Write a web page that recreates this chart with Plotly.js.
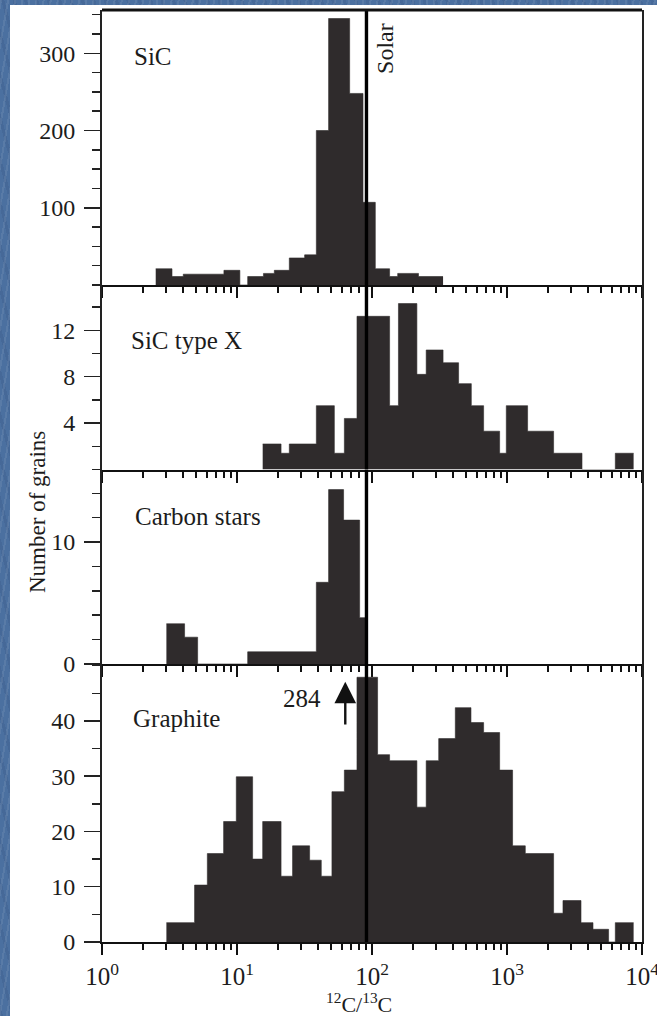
<!DOCTYPE html>
<html>
<head>
<meta charset="utf-8">
<script src="https://cdn.plot.ly/plotly-3.0.1.min.js"></script>
<style>
  html, body { margin:0; padding:0; }
  body {
    width:657px; height:1016px; overflow:hidden; position:relative;
    background-color:#4b70a0;
    background-image:
      repeating-linear-gradient(100deg, rgba(255,255,255,0.08) 0px, rgba(255,255,255,0.08) 2px, rgba(255,255,255,0) 2px, rgba(255,255,255,0) 7px),
      repeating-linear-gradient(75deg, rgba(10,20,60,0.08) 0px, rgba(10,20,60,0.08) 3px, rgba(0,0,0,0) 3px, rgba(0,0,0,0) 11px);
  }
  #chart { position:absolute; left:10px; top:5px; width:647px; height:1011px; background:#fff; }
</style>
</head>
<body>
<div id="chart"></div>
<script>
// ---- data (bin edges in 12C/13C, counts = number of grains) ----
const edgesSiC  = [2.5, 3.3, 4.0, 8.0, 10.5, 12.0, 15.7, 18.9, 24.4, 31.7, 38.7, 47.7, 68.3, 85.8, 105.8, 135, 155, 221, 336];
const countsSiC = [21, 11, 14, 19, 0, 11, 15, 19, 35, 39, 200, 345, 248, 107, 21, 11, 15, 11];

const edgesX  = [15.5, 21.2, 24.4, 38.7, 52.6, 62.4, 77.4, 135, 157, 215, 252, 336, 438, 544, 671, 882, 988, 1421, 2214, 3594, 6342, 8665];
const countsX = [2.2, 1.4, 2.2, 5.5, 1.4, 4.4, 13.2, 5.5, 14.3, 8.2, 10.3, 9.2, 7.4, 5.5, 3.3, 1.4, 5.5, 3.3, 1.4, 0, 1.4];

const edgesCS  = [3.0, 4.09, 5.11, 12.0, 38.7, 47.7, 61.6, 81.0, 91.8];
const countsCS = [3.3, 2.2, 0, 1, 6.7, 14.3, 11.8, 3.8];

const edgesG  = [3.0, 4.85, 6.03, 7.96, 9.88, 13.05, 15.5, 21.2, 25.8, 34.5, 42.1, 50.5, 62.4, 77.4, 110, 135, 215, 252, 312, 414, 541, 671, 882, 1100, 1366, 2214, 2598, 3533, 4335, 5657, 6342, 8665];
const countsG = [3.5, 10.3, 16, 21.8, 29.9, 15, 21.8, 11.9, 17.4, 14.8, 11.9, 27.2, 31.1, 47.9, 33.9, 32.8, 24.4, 32.8, 36.8, 42.4, 39.7, 37.9, 31.1, 17.4, 16, 5.2, 7.5, 3.5, 2.3, 0, 3.5];

const panelNames = ['SiC', 'SiC type X', 'Carbon stars', 'Graphite'];
const solarRatio = 91;          // Solar 12C/13C line
const offscaleLabel = '284';    // graphite off-scale count
const offscaleX = 63.4;         // arrow position (12C/13C)
const offscaleHead = 47.1, offscaleTail = 39.1;

const xTickVals = [1, 10, 100, 1000, 10000];
const xTickText = ['10<sup>0</sup>', '10<sup>1</sup>', '10<sup>2</sup>', '10<sup>3</sup>', '10<sup>4</sup>'];

const yRanges = [[0, 356], [0, 15.9], [0, 15.95], [0, 50.3]];
const yTickVals = [[100, 200, 300], [4, 8, 12], [0, 10], [0, 10, 20, 30, 40]];
const yMinorStep = [25, 2, 2, 5];

// ---- styling ----
const BAR = '#2f2b2c';
const FONT = 'Liberation Serif';
const INK = '#1c1c1c';

function stepTrace(edges, counts, xa, ya) {
  const y = counts.concat([counts[counts.length - 1]]);
  return {
    type: 'scatter', mode: 'lines', x: edges, y: y,
    xaxis: xa, yaxis: ya,
    line: { shape: 'hv', width: 0.6, color: BAR },
    fill: 'tozeroy', fillcolor: BAR, hoverinfo: 'skip', showlegend: false
  };
}

const data = [
  stepTrace(edgesSiC, countsSiC, 'x', 'y'),
  stepTrace(edgesX, countsX, 'x2', 'y2'),
  stepTrace(edgesCS, countsCS, 'x3', 'y3'),
  stepTrace(edgesG, countsG, 'x4', 'y4')
];
// Solar line through every panel
['', '2', '3', '4'].forEach((s, i) => {
  data.push({
    type: 'scatter', mode: 'lines', x: [solarRatio, solarRatio], y: [0, yRanges[i][1]],
    xaxis: 'x' + s, yaxis: 'y' + s, line: { color: '#000', width: 3.4 },
    hoverinfo: 'skip', showlegend: false
  });
});

// domains (fractions of plot height, bottom = 0)
const domains = [[0.70494, 1], [0.50697, 0.70494], [0.29828, 0.50697], [0, 0.29828]];

const layout = {
  width: 647, height: 1011,
  margin: { l: 92, r: 15, t: 5, b: 74 },
  paper_bgcolor: '#ffffff', plot_bgcolor: '#ffffff',
  font: { family: FONT, color: INK, size: 22 },
  showlegend: false,
  annotations: [],
  shapes: [
    { type: 'line', xref: 'paper', yref: 'paper', x0: 0, x1: 1, y0: 1, y1: 1, line: { color: '#111', width: 3 } }
  ]
};

['', '2', '3', '4'].forEach((s, i) => {
  const last = (i === 3);
  layout['xaxis' + s] = {
    type: 'log', range: [0, 4], domain: [0, 1], anchor: 'y' + s,
    showline: true, linecolor: '#111', linewidth: 2,
    showgrid: false, zeroline: false,
    ticks: 'outside', tickmode: 'array', tickvals: xTickVals, ticktext: xTickText,
    ticklen: 11, tickwidth: 2, tickcolor: '#111',
    showticklabels: last, ticklabeloverflow: 'allow', ticklabelstandoff: 0,
    tickfont: { family: FONT, size: 25, color: INK },
    minor: { dtick: 'D1', ticks: 'outside', ticklen: 6, tickwidth: 2, tickcolor: '#111', showgrid: false },
    fixedrange: true
  };
  const yv = yTickVals[i];
  layout['yaxis' + s] = {
    domain: domains[i], anchor: 'x' + s, range: yRanges[i],
    showline: true, linecolor: '#222', linewidth: 2, mirror: true,
    showgrid: false, zeroline: false,
    ticks: 'outside', tickmode: 'array', tickvals: yv, ticktext: yv.map(String),
    ticklen: 16, tickwidth: 1.5, tickcolor: '#222', ticklabelstandoff: 4,
    tickfont: { family: FONT, size: 24, color: INK },
    minor: { dtick: yMinorStep[i], tick0: 0, ticks: 'outside', ticklen: 8, tickwidth: 1.5, tickcolor: '#222', showgrid: false },
    fixedrange: true
  };
});

// panel labels (paper coords)
const labelPos = [[0.055, 0.9496], [0.0506, 0.6459], [0.0569, 0.4563], [0.0531, 0.240]];
panelNames.forEach((t, i) => {
  layout.annotations.push({
    xref: 'paper', yref: 'paper', x: labelPos[i][0], y: labelPos[i][1],
    xanchor: 'left', yanchor: 'middle', showarrow: false, text: t,
    font: { family: FONT, size: 25, color: INK }
  });
});
// Solar label
layout.annotations.push({
  xref: 'paper', yref: 'paper', x: 0.5241, y: 0.9582, textangle: -90,
  xanchor: 'center', yanchor: 'middle', showarrow: false, text: 'Solar',
  font: { family: FONT, size: 24, color: INK }
});
// off-scale arrow and value
layout.annotations.push({
  xref: 'x4', yref: 'y4', x: Math.log10(offscaleX), y: offscaleHead,
  ax: Math.log10(offscaleX), ay: offscaleTail, axref: 'x4', ayref: 'y4',
  showarrow: true, arrowhead: 2, arrowsize: 1.8, arrowwidth: 2.4, arrowcolor: '#111', text: ''
});
layout.annotations.push({
  xref: 'paper', yref: 'paper', x: 0.3704, y: 0.2615,
  xanchor: 'center', yanchor: 'middle', showarrow: false, text: offscaleLabel,
  font: { family: FONT, size: 25, color: INK }
});
// axis titles
layout.annotations.push({
  xref: 'paper', yref: 'paper', x: 0.476, y: -0.0655,
  xanchor: 'center', yanchor: 'middle', showarrow: false,
  text: '<sup>12</sup>C/<sup>13</sup>C', font: { family: FONT, size: 22, color: INK }
});
layout.annotations.push({
  xref: 'paper', yref: 'paper', x: -0.1185, y: 0.4614, textangle: -90,
  xanchor: 'center', yanchor: 'middle', showarrow: false,
  text: 'Number of grains', font: { family: FONT, size: 23, color: INK }
});

Plotly.newPlot('chart', data, layout, { displayModeBar: false, staticPlot: true });
</script>
</body>
</html>
